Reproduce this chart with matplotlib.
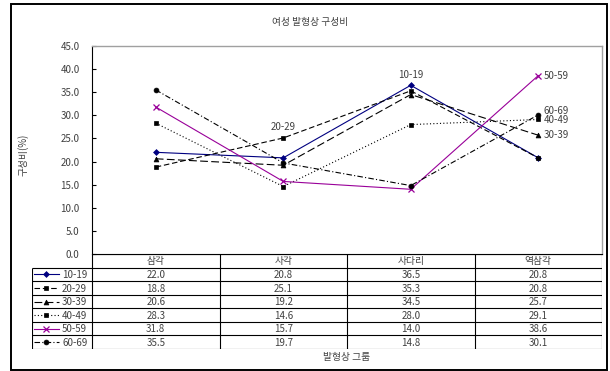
import numpy as np
import matplotlib.pyplot as plt
from matplotlib.patches import Rectangle

plt.rcParams['font.family'] = ['Noto Sans CJK KR', 'DejaVu Sans']

title = '여성 발형상 구성비'
ylabel = '구성비(%)'
xlabel = '발형상 그룹'
categories = ['삼각', '사각', '사다리', '역삼각']
groups = ['10-19', '20-29', '30-39', '40-49', '50-59', '60-69']
v_10 = [22.0, 20.8, 36.5, 20.8]
v_20 = [18.8, 25.1, 35.3, 20.8]
v_30 = [20.6, 19.2, 34.5, 25.7]
v_40 = [28.3, 14.6, 28.0, 29.1]
v_50 = [31.8, 15.7, 14.0, 38.6]
v_60 = [35.5, 19.7, 14.8, 30.1]
yticks = np.arange(0, 46, 5)

TXT = '#404040'
FS = 7

# line style per group: colour, dash pattern, marker, marker size
styles = [
    ('#000080', '-', 'D', 3.0),
    ('black', (0, (5, 2.5)), 's', 3.5),
    ('black', (0, (7, 3)), '^', 3.5),
    ('black', (0, (1, 2)), 's', 3.5),
    ('#990099', '-', 'x', 4.0),
    ('black', (0, (5, 2, 1, 2)), 'o', 3.5),
]
series = [v_10, v_20, v_30, v_40, v_50, v_60]

W, H = 610, 371
fig = plt.figure(figsize=(W / 100, H / 100), dpi=100)

# outer chart frame
fig.patches.append(Rectangle((11 / W, 1 - 370 / H), 596 / W, 366 / H,
                             transform=fig.transFigure, fill=False,
                             edgecolor='black', lw=1.4))

ax = fig.add_axes([92 / W, 1 - 254 / H, 510 / W, 208 / H])
xs = np.arange(len(categories)) + 0.5
for vals, (c, ls, m, ms) in zip(series, styles):
    ax.plot(xs, vals, color=c, linestyle=ls, lw=0.8, marker=m,
            markersize=ms, markeredgewidth=0.9 if m == 'x' else 0.5,
            markerfacecolor=c, markeredgecolor=c)

ax.set_xlim(0, 4)
ax.set_ylim(0, 45)
ax.set_xticks([])
ax.set_yticks(yticks)
ax.set_yticklabels([f'{t:.1f}' for t in yticks], fontsize=FS, color=TXT)
ax.tick_params(axis='y', direction='in', length=3, width=0.8, pad=9)
ax.spines['left'].set_linewidth(0.8)
ax.spines['bottom'].set_linewidth(0.8)
for s in ('top', 'right'):
    ax.spines[s].set_color('#a0a0a0')
    ax.spines[s].set_linewidth(1.0)

# group labels next to selected points
ax.annotate(groups[1], (xs[1], v_20[1]), xytext=(0, 8), textcoords='offset points',
            ha='center', va='center', fontsize=FS, color=TXT)
ax.annotate(groups[0], (xs[2], v_10[2]), xytext=(0, 7.5), textcoords='offset points',
            ha='center', va='center', fontsize=FS, color=TXT)
ax.annotate(groups[4], (xs[3], v_50[3]), xytext=(4, 0), textcoords='offset points',
            ha='left', va='center', fontsize=FS, color=TXT)
ax.annotate(groups[5], (xs[3], v_60[3]), xytext=(4, 3), textcoords='offset points',
            ha='left', va='center', fontsize=FS, color=TXT)
ax.annotate(groups[3], (xs[3], v_40[3]), xytext=(4, -0.5), textcoords='offset points',
            ha='left', va='center', fontsize=FS, color=TXT)
ax.annotate(groups[2], (xs[3], v_30[3]), xytext=(4, 0), textcoords='offset points',
            ha='left', va='center', fontsize=FS, color=TXT)

# data table under the plot, columns aligned with the categories
col0 = 60 / 127.5
tax = fig.add_axes([32 / W, 1 - 349 / H, 570 / W, 95 / H])
tax.set_xlim(-col0, 4)
tax.set_ylim(7, 0)
tax.axis('off')
nrow = len(groups) + 1
tax.hlines(0, 0, 4, color='black', lw=0.8)
for r in range(1, nrow + 1):
    tax.hlines(r, -col0, 4, color='black', lw=0.8)
tax.vlines(-col0, 1, nrow, color='black', lw=0.8)
for cidx in range(len(categories) + 1):
    tax.vlines(cidx, 0, nrow, color='black', lw=0.8)
for cidx, cat in enumerate(categories):
    tax.text(cidx + 0.5, 0.5, cat, ha='center', va='center', fontsize=FS, color=TXT)
for r, (g, vals, (c, ls, m, ms)) in enumerate(zip(groups, series, styles), start=1):
    tax.plot([-0.455, -0.259], [r + 0.5, r + 0.5], color=c, linestyle=ls, lw=0.8)
    tax.plot([-0.357], [r + 0.5], color=c, marker=m, markersize=ms,
             markeredgewidth=0.9 if m == 'x' else 0.5)
    tax.text(-0.235, r + 0.55, g, ha='left', va='center', fontsize=FS, color=TXT)
    for cidx, v in enumerate(vals):
        tax.text(cidx + 0.5, r + 0.55, f'{v:.1f}', ha='center', va='center',
                 fontsize=FS, color=TXT)

fig.text(310 / W, 1 - 22 / H, title, ha='center', va='center', fontsize=FS, color=TXT)
fig.text(347 / W, 1 - 357 / H, xlabel, ha='center', va='center', fontsize=FS, color=TXT)
fig.text(23 / W, 1 - 155 / H, ylabel, ha='center', va='center', rotation=90,
         fontsize=FS, color=TXT)

fig.savefig('out.png', dpi=100)
